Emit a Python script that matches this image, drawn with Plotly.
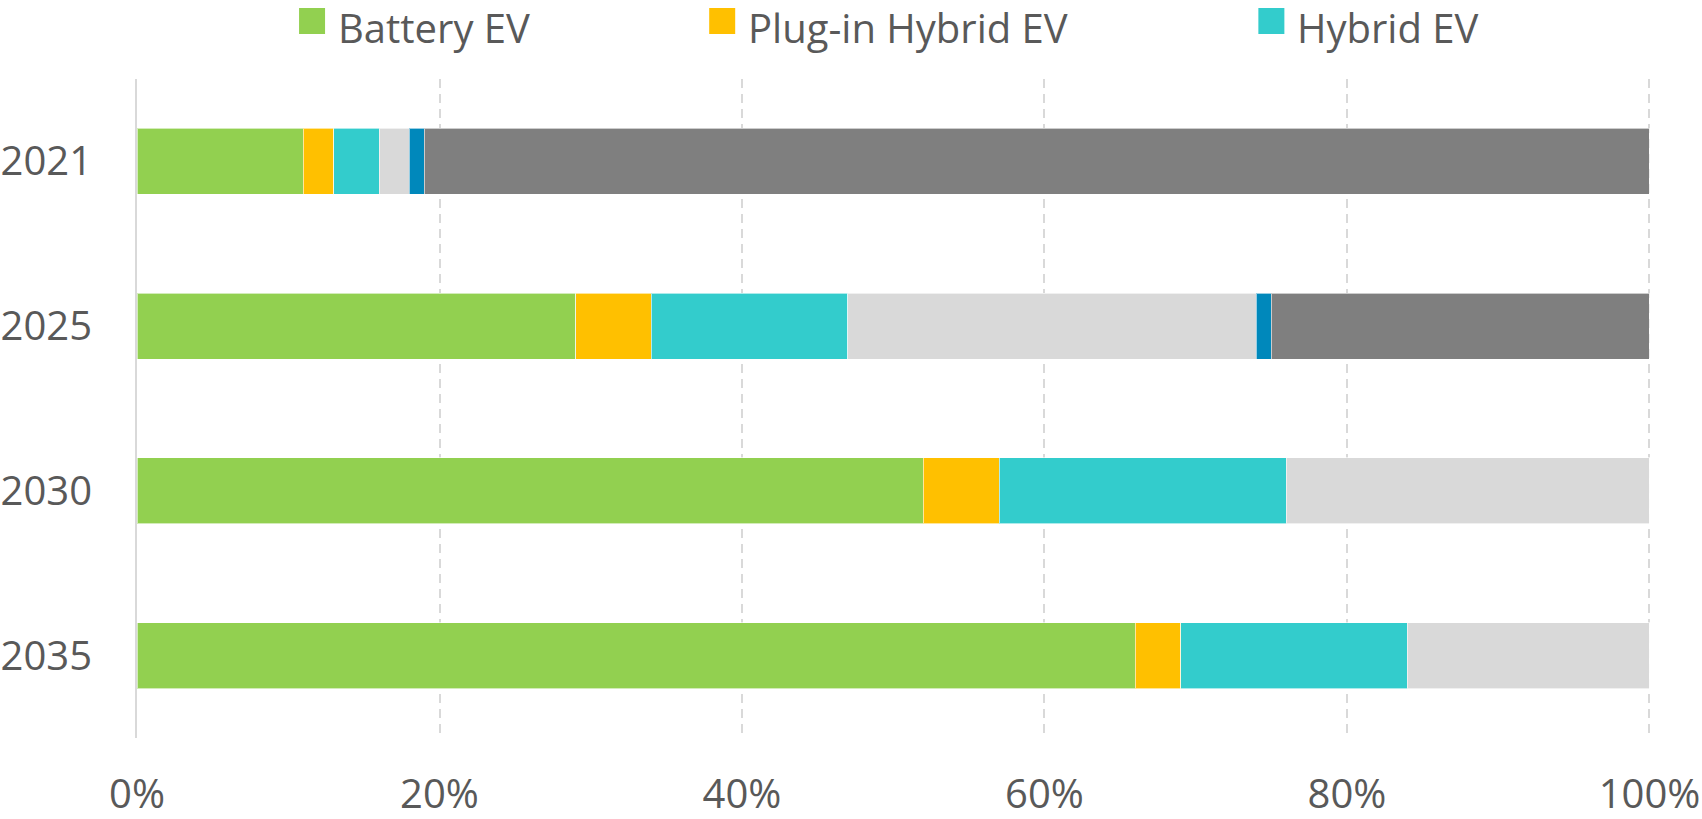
import plotly.graph_objects as go

years = ["2021", "2025", "2030", "2035"]
battery_ev = [11, 29, 52, 66]
plugin_hybrid_ev = [2, 5, 5, 3]
hybrid_ev = [3, 13, 19, 15]
mild_hybrid = [2, 27, 24, 16]
fuel_cell_ev = [1, 1, 0, 0]
ice = [81, 25, 0, 0]

series = [
    ("Battery EV", battery_ev, "#92D050", True),
    ("Plug-in Hybrid EV", plugin_hybrid_ev, "#FFC000", True),
    ("Hybrid EV", hybrid_ev, "#33CCCC", True),
    ("Mild Hybrid", mild_hybrid, "#D9D9D9", False),
    ("Fuel Cell EV", fuel_cell_ev, "#0088BB", False),
    ("ICE", ice, "#7F7F7F", False),
]

x_ticks = [0, 20, 40, 60, 80, 100]
x_tick_text = ["0%", "20%", "40%", "60%", "80%", "100%"]

W, H = 1702, 819
X_MAX = 100.1
ML, MT, MB = 137, 79, 81
PW100 = 1512  # pixels from 0% to 100%
PW = PW100 * X_MAX / 100
MR = W - ML - PW
PH = H - MT - MB
TEXT = "#595959"
FONT = "Open Sans"


def px_x(x):
    return (x - ML) / PW


def px_y(y):
    return (H - MB - y) / PH


fig = go.Figure()
for name, vals, color, _ in series:
    fig.add_trace(go.Bar(
        y=years, x=vals, name=name, orientation="h",
        marker=dict(color=color, line=dict(color="rgba(255,255,255,0.6)", width=1)),
        showlegend=False,
    ))

# custom legend (large square swatches like the original)
legend_pos = {"Battery EV": 299, "Plug-in Hybrid EV": 709, "Hybrid EV": 1258}
shapes = []
annotations = []
for name, vals, color, in_legend in series:
    if not in_legend:
        continue
    x0 = legend_pos[name]
    shapes.append(dict(type="rect", xref="paper", yref="paper",
                       x0=px_x(x0), x1=px_x(x0 + 26), y0=px_y(34), y1=px_y(8),
                       fillcolor=color, line=dict(width=0)))
    annotations.append(dict(xref="paper", yref="paper", x=px_x(x0 + 38), y=px_y(27),
                            xanchor="left", yanchor="middle", showarrow=False,
                            borderpad=0,
                            text=name, font=dict(family=FONT, size=40, color=TEXT)))

fig.update_layout(
    barmode="stack",
    bargap=0.6,
    width=W, height=H,
    margin=dict(l=ML, r=MR, t=MT, b=MB, pad=0, autoexpand=False),
    plot_bgcolor="white", paper_bgcolor="white",
    font=dict(family=FONT, color=TEXT),
    shapes=shapes,
    annotations=annotations,
    showlegend=False,
    xaxis=dict(
        range=[0, X_MAX], tickvals=x_ticks, ticktext=x_tick_text,
        showgrid=True, gridcolor="#D9D9D9", gridwidth=1.5, griddash="9px,6px",
        zeroline=False, showline=False, ticks="",
        tickfont=dict(family=FONT, size=40, color=TEXT),
        ticklabelstandoff=29, ticklabeloverflow="allow",
        automargin=False,
    ),
    yaxis=dict(
        type="category", categoryorder="array", categoryarray=years,
        range=[3.5, -0.5],
        showgrid=False, zeroline=False,
        showline=True, linecolor="#D9D9D9", linewidth=2,
        ticks="", tickfont=dict(family=FONT, size=40, color=TEXT),
        ticklabelstandoff=35, automargin=False,
    ),
)

fig.write_html(
    "out.html",
    config={"displayModeBar": False},
    post_script="document.body.style.margin='0';document.body.style.overflow='hidden';",
)
